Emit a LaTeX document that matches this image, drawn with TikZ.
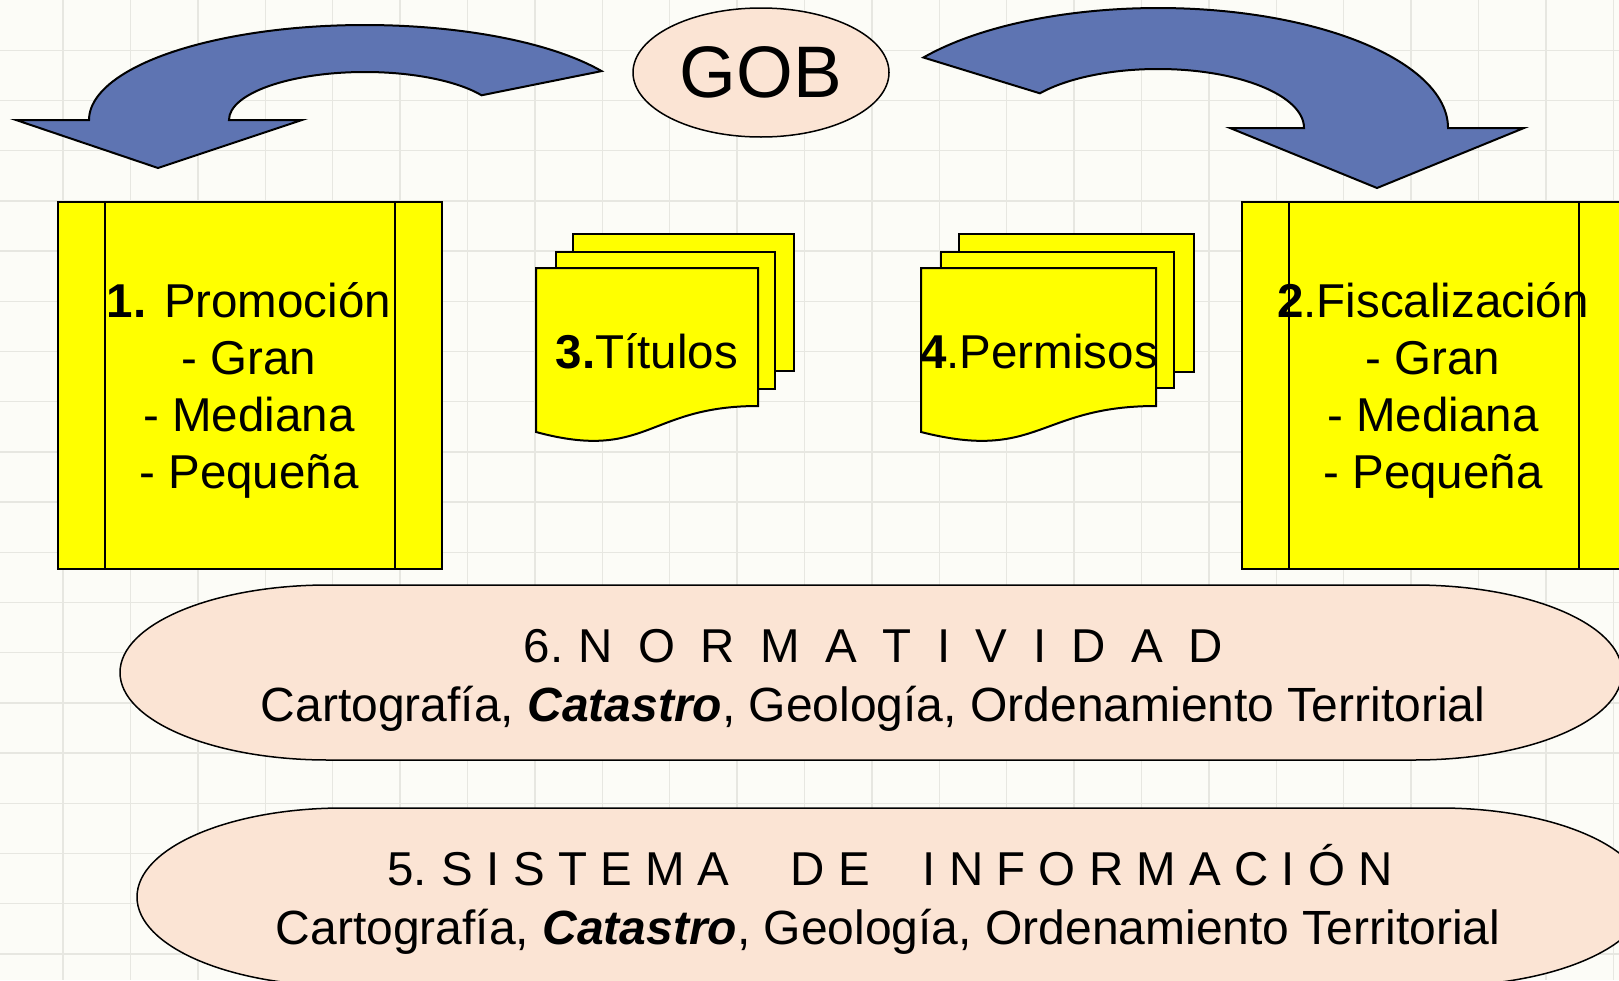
\documentclass[tikz,border=0pt]{standalone}
\usepackage{fontspec}
\setmainfont{Liberation Sans}
\usetikzlibrary{shapes.geometric}
\definecolor{bgc}{RGB}{252,252,247}
\definecolor{gridc}{RGB}{231,231,225}
\definecolor{arrowblue}{RGB}{94,116,178}
\definecolor{peach}{RGB}{251,228,212}
\definecolor{yel}{RGB}{255,255,0}
\newcommand\lgap{\hspace{25.5pt}}
\begin{document}
\begin{tikzpicture}[x=1pt,y=1pt,
  box/.style={draw=black, line width=2pt, fill=yel, inner sep=0pt, anchor=north west},
  docshape/.style={draw=black, line width=2pt, fill=yel},
  bigarrow/.style={draw=black, line width=2pt, fill=arrowblue, line join=miter},
  oval/.style={ellipse, draw=black, line width=1.5pt, fill=peach, inner sep=0pt},
  ovalpath/.style={draw=black, line width=1.5pt, fill=peach},
  txt/.style={anchor=base, inner sep=0pt, font=\fontsize{47.5}{57}\selectfont},
  etxt/.style={anchor=base, inner sep=0pt, font=\fontsize{48}{57}\selectfont},
]
\useasboundingbox (0,0) rectangle (1619,-980);
\clip (0,0) rectangle (1619,-980);
\fill[bgc] (0,0) rectangle (1619,-980);
\foreach \k in {0,...,24} { \draw[gridc, line width=1.4pt] ({-4.4+67.4*\k},0) -- ({-4.4+67.4*\k},-980); }
\foreach \k in {1,...,19} { \draw[gridc, line width=1.4pt] (0,{-50.2*\k}) -- (1619,{-50.2*\k}); }

% curved arrows
\draw[bigarrow] (158,-168) -- (302,-120) -- (229,-120)
  arc[start angle=180, end angle=31, x radius=136pt, y radius=48pt]
  -- (601.6,-71.1)
  arc[start angle=31, end angle=180, x radius=276pt, y radius=95pt]
  -- (16,-120) -- cycle;
\draw[bigarrow] (1377,-188) -- (1230,-128) -- (1304,-128)
  arc[start angle=0, end angle=144, x radius=146pt, y radius=59pt]
  -- (923.4,-57.5)
  arc[start angle=144, end angle=0, x radius=290pt, y radius=120pt]
  -- (1524,-128) -- cycle;

% GOB
\node[oval, minimum width=256pt, minimum height=129pt, font=\fontsize{73}{80}\selectfont] (gob) at (761,-72.5) {GOB};

% left box
\node[box, minimum width=384pt, minimum height=367pt] (promo) at (57,-201) {};
\draw[line width=2pt] ([xshift=48pt]promo.north west) -- ([xshift=48pt]promo.south west);
\draw[line width=2pt] ([xshift=-48pt]promo.north east) -- ([xshift=-48pt]promo.south east);
\node[txt] (p1) at (249,-317) {\textbf{1.} Promoción};
\node[txt] (p2) at (249,-374) {- Gran};
\node[txt] (p3) at (249,-431) {- Mediana};
\node[txt] (p4) at (249,-488) {- Pequeña};

% right box
\node[box, minimum width=384pt, minimum height=367pt] (fisc) at (1241,-201) {};
\draw[line width=2pt] ([xshift=48pt]fisc.north west) -- ([xshift=48pt]fisc.south west);
\draw[line width=2pt] ([xshift=-48pt]fisc.north east) -- ([xshift=-48pt]fisc.south east);
\node[txt] (f1) at (1433,-317) {\textbf{2}.Fiscalización};
\node[txt] (f2) at (1433,-374) {- Gran};
\node[txt] (f3) at (1433,-431) {- Mediana};
\node[txt] (f4) at (1433,-488) {- Pequeña};

% documents 3
\node[box, minimum width=221pt, minimum height=137pt] (tback) at (572,-233) {};
\node[box, minimum width=219pt, minimum height=137pt] (tmid) at (555,-251) {};
\coordinate (tf) at (536,-268);
\draw[docshape] (tf) -- ++(222,0) -- ++(0,-138) .. controls (647,-406) and (647,-462) .. (536,-432) -- cycle;
\node[txt] (tit) at (647,-368) {\textbf{3.}Títulos};

% documents 4
\node[box, minimum width=235pt, minimum height=138pt] (pback) at (958,-233) {};
\node[box, minimum width=233pt, minimum height=136pt] (pmid) at (940,-251) {};
\coordinate (pf) at (921,-268);
\draw[docshape] (pf) -- ++(235,0) -- ++(0,-138) .. controls (1038.5,-406) and (1038.5,-462) .. (921,-432) -- cycle;
\node[txt] (perm) at (1039,-368) {\textbf{4}.Permisos};

% normatividad oval
\coordinate (nl) at (328,-585);
\draw[ovalpath] (nl) -- (1414,-585)
  arc[start angle=90, end angle=-90, x radius=208pt, y radius=87.5pt]
  -- (328,-760)
  arc[start angle=270, end angle=90, x radius=208pt, y radius=87.5pt] -- cycle;
\node[txt] (n1) at (873.5,-662) {6.\hspace{15pt}N\lgap O\lgap R\lgap M\lgap A\lgap T\lgap I\lgap V\lgap I\lgap D\lgap A\lgap D};
\node[etxt] (n2) at (873,-721) {Cartografía, \textbf{\textit{Catastro}}, Geología, Ordenamiento Territorial};

% sistema oval
\coordinate (sl) at (343,-808);
\draw[ovalpath] (sl) -- (1440,-808)
  arc[start angle=90, end angle=-90, x radius=206pt, y radius=89pt]
  -- (343,-986)
  arc[start angle=270, end angle=90, x radius=206pt, y radius=89pt] -- cycle;
\node[txt] (s1) at (890,-885) {5.\hspace{15pt}S I S T E M A\hspace{61pt}D E\hspace{53pt}I N F O R M A C I Ó N};
\node[etxt] (s2) at (888,-944) {Cartografía, \textbf{\textit{Catastro}}, Geología, Ordenamiento Territorial};
\end{tikzpicture}
\end{document}
